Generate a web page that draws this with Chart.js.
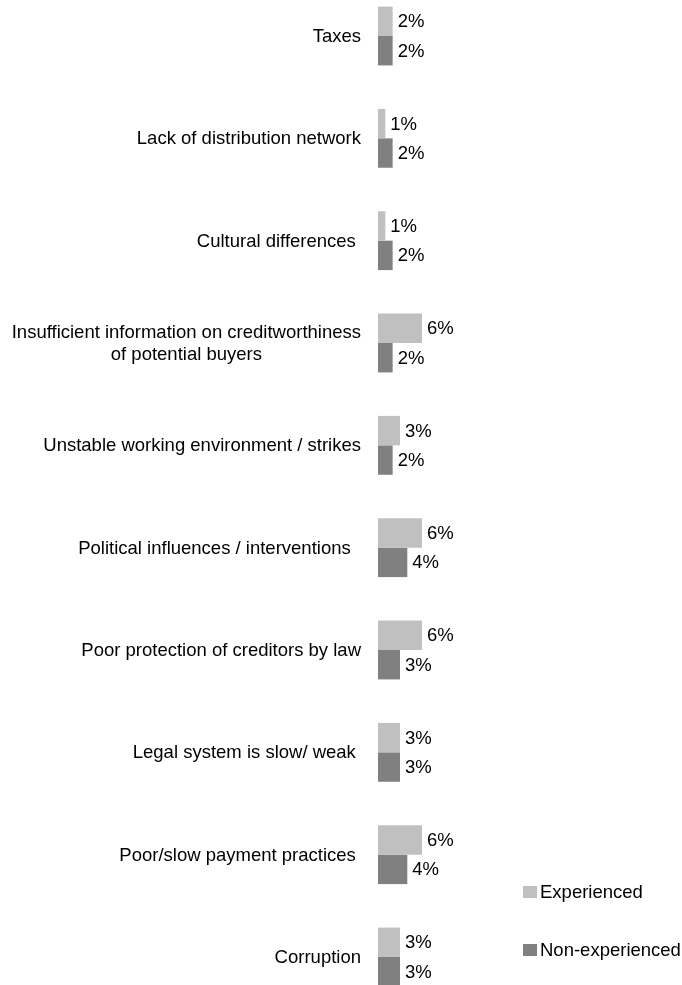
<!DOCTYPE html>
<html lang="en">
<head>
<meta charset="UTF-8">
<title>Obstacles - experienced vs non-experienced</title>
<script src="https://cdn.jsdelivr.net/npm/chart.js"></script>
<style>
  html, body { margin: 0; padding: 0; background: #ffffff; }
  #wrap { width: 682px; height: 985px; }
</style>
</head>
<body>
<div id="wrap"><canvas id="chart" width="682" height="985"></canvas></div>
<script>
// categories (top to bottom); trailing spaces kept as in the source labels
const categories = [
  ['Taxes'],
  ['Lack of distribution network'],
  ['Cultural differences '],
  ['Insufficient information on creditworthiness', 'of potential buyers'],
  ['Unstable working environment / strikes'],
  ['Political influences / interventions  '],
  ['Poor protection of creditors by law'],
  ['Legal system is slow/ weak '],
  ['Poor/slow payment practices '],
  ['Corruption']
];
const experienced    = [2, 1, 1, 6, 3, 6, 6, 3, 6, 3];
const nonExperienced = [2, 2, 2, 2, 2, 4, 3, 3, 4, 3];
const seriesNames = ['Experienced', 'Non-experienced'];
const seriesColors = ['#c0c0c0', '#808080'];

const FONT = '18.5px "Liberation Sans", Arial, sans-serif';

// value labels, category labels and the legend are drawn here
const labelsPlugin = {
  id: 'labels',
  afterDatasetsDraw(chart) {
    const ctx = chart.ctx;
    const yScale = chart.scales.y;
    ctx.save();
    ctx.font = FONT;
    ctx.fillStyle = '#000';
    ctx.textBaseline = 'middle';

    // percentages after each bar
    ctx.textAlign = 'left';
    chart.data.datasets.forEach((ds, di) => {
      chart.getDatasetMeta(di).data.forEach((bar, i) => {
        ctx.fillText(ds.data[i] + '%', bar.x + 5, bar.y + 1);
      });
    });

    // category names, block right-aligned, lines centred within the block
    const rightEdge = 361;
    const lineH = 22;
    ctx.textAlign = 'center';
    categories.forEach((lines, i) => {
      const yc = yScale.getPixelForValue(i);
      const w = Math.max(...lines.map(l => ctx.measureText(l).width));
      const cx = rightEdge - w / 2;
      const y0 = yc - (lines.length - 1) * lineH / 2;
      lines.forEach((l, k) => ctx.fillText(l, cx, y0 + k * lineH + 1));
    });

    // legend
    const legendY = [892, 950];
    ctx.textAlign = 'left';
    seriesNames.forEach((name, k) => {
      ctx.fillStyle = seriesColors[k];
      ctx.fillRect(523, legendY[k] - 6, 14, 12);
      ctx.fillStyle = '#000';
      ctx.fillText(name, 540, legendY[k] + 1);
    });
    ctx.restore();
  }
};

new Chart(document.getElementById('chart'), {
  type: 'bar',
  data: {
    labels: categories,
    datasets: [
      { label: seriesNames[0], data: experienced, backgroundColor: seriesColors[0] },
      { label: seriesNames[1], data: nonExperienced, backgroundColor: seriesColors[1] }
    ]
  },
  options: {
    indexAxis: 'y',
    responsive: false,
    animation: false,
    layout: { padding: { top: 36, bottom: 28, left: 378, right: 0 } },
    datasets: { bar: { categoryPercentage: 0.575, barPercentage: 1.0, clip: false } },
    scales: {
      x: { display: false, min: 0, max: 41.5 },
      y: { display: false, offset: false }
    },
    plugins: {
      legend: { display: false },
      tooltip: { enabled: false }
    }
  },
  plugins: [labelsPlugin]
});
</script>
</body>
</html>
